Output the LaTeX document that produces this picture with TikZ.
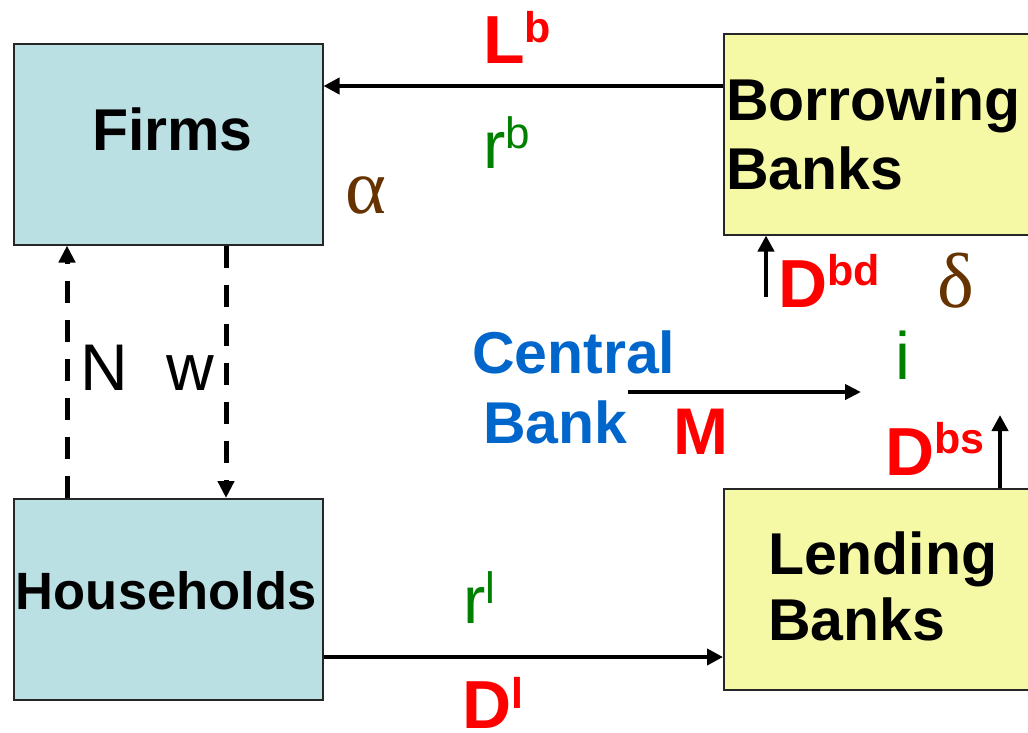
\documentclass[tikz,border=0pt]{standalone}
\usepackage{fontspec}
\setmainfont{Liberation Sans}
\newfontfamily\grk{Liberation Serif}
\usetikzlibrary{arrows.meta}
\definecolor{firmblue}{RGB}{187,224,227}
\definecolor{bankyellow}{RGB}{245,249,165}
\definecolor{lred}{RGB}{255,0,0}
\definecolor{lgreen}{RGB}{0,128,0}
\definecolor{lblue}{RGB}{0,102,204}
\definecolor{lbrown}{RGB}{102,51,0}
\newcommand{\fsz}[1]{\fontsize{#1}{#1}\selectfont}
\newcommand{\supr}[2]{\raisebox{#1}{\fsz{43}#2}}
\tikzset{
  boxbase/.style={draw=black!85, line width=1.5pt, anchor=north west, inner sep=0pt},
  fbox/.style={boxbase, fill=firmblue, minimum width=309pt, minimum height=201pt},
  ybox/.style={boxbase, fill=bankyellow, minimum width=330pt, minimum height=201pt},
  txt/.style={anchor=base west, inner sep=0pt, outer sep=0pt},
  boxtxt/.style={txt, font=\bfseries\fsz{59}},
  redlbl/.style={txt, text=lred, font=\bfseries\fsz{68}},
  greenlbl/.style={txt, text=lgreen, font=\fsz{67}},
  greeklbl/.style={txt, text=lbrown, font=\grk\fsz{78}},
  flow/.style={line width=4.5pt, -{Triangle[length=16pt,width=16pt]}},
  dflow/.style={line width=5pt, dash pattern=on 22pt off 17pt, -{Triangle[length=17pt,width=16pt]}}
}
\begin{document}
\begin{tikzpicture}[x=1pt,y=-1pt]
\clip (0,0) rectangle (1028,732);
\fill[white] (0,0) rectangle (1028,732);
% boxes
\node[fbox] (firms) at (13,43) {};
\node[ybox] (borrow) at (723,33) {};
\node[fbox] (house) at (13,498) {};
\node[ybox] (lend) at (723,488) {};
% box texts
\node[boxtxt] (tfirms) at (92,150) {Firms};
\node[boxtxt] (tborrow1) at (726,120) {Borrowing};
\node[boxtxt] (tborrow2) at (726,189) {Banks};
\node[txt, font=\bfseries\fsz{52.5}] (thouse) at (16,609) {Households};
\node[boxtxt] (tlend1) at (768,574) {Lending};
\node[boxtxt] (tlend2) at (768,640) {Banks};
\node[boxtxt, text=lblue] (tcb1) at (472,373) {Central};
\node[boxtxt, text=lblue] (tcb2) at (483,443) {Bank};
% connectors
\draw[flow] ([yshift=-53pt]borrow.north west) -- ([yshift=-53pt]borrow.north west -| firms.east);
\draw[flow] ([yshift=-159pt]house.north east) -- ([yshift=-159pt]house.north east -| lend.west);
\draw[dflow] ([xshift=54pt]house.north west) -- ([xshift=54pt]house.north west |- firms.south);
\draw[dflow] ([xshift=213pt]firms.south west) -- ([xshift=213pt]firms.south west |- house.north);
\coordinate (dbdstart) at (766,297);
\draw[flow] (dbdstart) -- (dbdstart |- borrow.south);
\coordinate (dbsend) at (1000,415);
\draw[flow] (dbsend |- lend.north) -- (dbsend);
\coordinate (mstart) at (628,392);
\coordinate (mend) at (861,392);
\draw[line width=4pt, -{Triangle[length=16pt,width=15pt]}] (mstart) -- (mend);
% labels
\node[redlbl] (lLb) at (483,63) {L\supr{21pt}{b}};
\node[redlbl] (lDbd) at (778,307) {D\supr{22pt}{bd}};
\node[redlbl] (lDbs) at (885,475) {D\supr{22pt}{bs}};
\node[redlbl] (lDl) at (462,728) {D\supr{20pt}{l}};
\node[txt, text=lred, font=\bfseries\fsz{66}] (lM) at (673,454) {M};
\node[greenlbl] (lrb) at (483,168) {r\raisebox{20pt}{\fsz{44}b}};
\node[greenlbl] (lrl) at (463,623) {r\raisebox{20pt}{\fsz{44}l}};
\node[greenlbl] (li) at (895.5,379) {i};
\node[txt, font=\fsz{66}] (lN) at (80,390) {N};
\node[txt, font=\fsz{66}] (lw) at (166,390) {w};
\node[greeklbl] (lalpha) at (345,213) {α};
\node[greeklbl] (ldelta) at (937,307) {δ};
\end{tikzpicture}
\end{document}
